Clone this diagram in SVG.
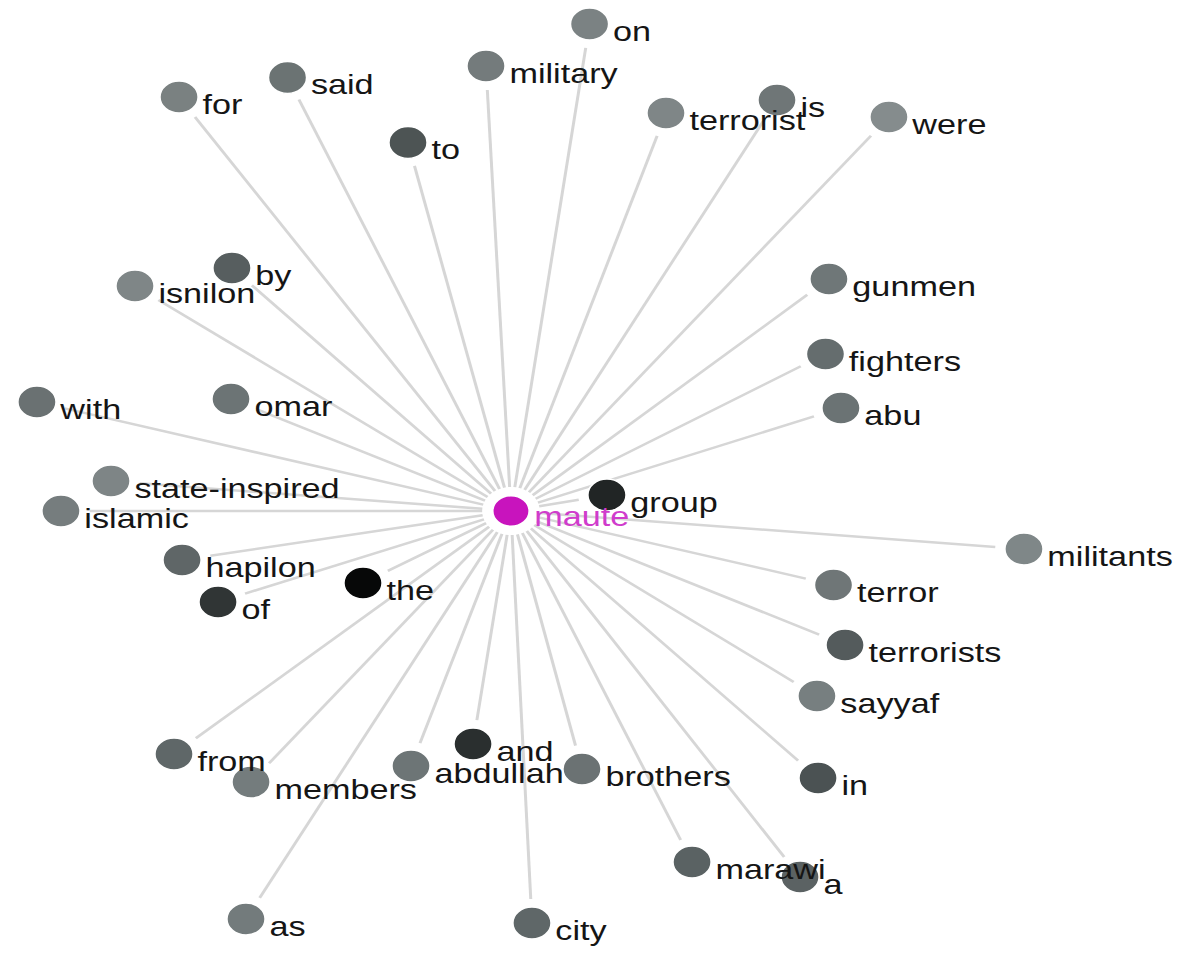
<svg xmlns="http://www.w3.org/2000/svg" width="1191" height="959" viewBox="0 0 1191 959">
<style>
.e{stroke:#d6d6d6;stroke-width:2.5;fill:none}
.n{stroke:#ffffff;stroke-width:1.5}
.t{font-family:"Liberation Sans",Arial,sans-serif;font-size:28.5px;fill:#151515;transform:translate(0px,2px)}
.m{fill:#d03ccc}
</style>
<rect width="1191" height="959" fill="#ffffff"/>
<g transform="scale(1.2,1)">
<g id="edges">
<line class="e" x1="429.0" y1="487.2" x2="488.1" y2="47.8"/>
<line class="e" x1="424.7" y1="487.0" x2="406.1" y2="90.0"/>
<line class="e" x1="412.5" y1="491.0" x2="162.5" y2="117.0"/>
<line class="e" x1="416.3" y1="489.0" x2="249.1" y2="99.6"/>
<line class="e" x1="420.4" y1="487.6" x2="345.4" y2="165.9"/>
<line class="e" x1="433.2" y1="488.2" x2="547.6" y2="135.8"/>
<line class="e" x1="437.2" y1="489.9" x2="636.1" y2="121.1"/>
<line class="e" x1="440.8" y1="492.3" x2="725.8" y2="135.7"/>
<line class="e" x1="409.2" y1="493.7" x2="209.9" y2="285.3"/>
<line class="e" x1="406.3" y1="497.0" x2="132.0" y2="300.0"/>
<line class="e" x1="443.9" y1="495.2" x2="672.7" y2="294.8"/>
<line class="e" x1="446.4" y1="498.7" x2="667.3" y2="366.3"/>
<line class="e" x1="448.3" y1="502.6" x2="678.3" y2="416.4"/>
<line class="e" x1="402.7" y1="504.6" x2="53.9" y2="408.4"/>
<line class="e" x1="404.2" y1="500.6" x2="214.1" y2="409.4"/>
<line class="e" x1="401.9" y1="508.8" x2="116.4" y2="483.2"/>
<line class="e" x1="401.8" y1="511" x2="74.8" y2="511"/>
<line class="e" x1="402.2" y1="515.2" x2="175.3" y2="555.8"/>
<line class="e" x1="403.3" y1="519.4" x2="204.2" y2="593.6"/>
<line class="e" x1="405.1" y1="523.1" x2="323.2" y2="570.9"/>
<line class="e" x1="449.3" y1="506.3" x2="482.3" y2="499.7"/>
<line class="e" x1="449.7" y1="513.1" x2="829.4" y2="546.9"/>
<line class="e" x1="448.9" y1="517.4" x2="671.5" y2="578.6"/>
<line class="e" x1="447.4" y1="521.4" x2="682.6" y2="634.6"/>
<line class="e" x1="445.2" y1="525.1" x2="661.4" y2="681.9"/>
<line class="e" x1="442.4" y1="528.3" x2="665.1" y2="760.7"/>
<line class="e" x1="435.3" y1="533.0" x2="567.2" y2="840.0"/>
<line class="e" x1="439.0" y1="531.0" x2="653.5" y2="857.0"/>
<line class="e" x1="407.6" y1="526.7" x2="163.2" y2="738.3"/>
<line class="e" x1="410.8" y1="529.7" x2="224.2" y2="763.3"/>
<line class="e" x1="418.3" y1="533.8" x2="350.0" y2="743.2"/>
<line class="e" x1="422.6" y1="534.8" x2="397.4" y2="720.2"/>
<line class="e" x1="431.2" y1="534.4" x2="479.6" y2="745.6"/>
<line class="e" x1="414.4" y1="532.1" x2="216.4" y2="897.9"/>
<line class="e" x1="426.8" y1="535.0" x2="442.3" y2="899.0"/>
</g>
<g id="node-by"><circle class="n" cx="193.3" cy="268" r="16" fill="#575e5f"/><text class="t" x="212.8" y="283">by</text></g>
<g id="node-is"><circle class="n" cx="647.5" cy="100" r="16" fill="#6f7677"/><text class="t" x="667" y="115">is</text></g>
<g id="node-a"><circle class="n" cx="666.7" cy="877" r="16" fill="#5b6263"/><text class="t" x="686.2" y="892">a</text></g>
<g id="node-members"><circle class="n" cx="209.2" cy="782" r="16" fill="#747c7d"/><text class="t" x="228.7" y="797">members</text></g>
<g id="node-brothers"><circle class="n" cx="485" cy="769" r="16" fill="#6b7273"/><text class="t" x="504.5" y="784">brothers</text></g>
<g id="node-on"><circle class="n" cx="491.3" cy="24" r="16" fill="#7b8283"/><text class="t" x="510.8" y="39">on</text></g>
<g id="node-military"><circle class="n" cx="405" cy="66" r="16" fill="#747b7c"/><text class="t" x="424.5" y="81">military</text></g>
<g id="node-for"><circle class="n" cx="149.2" cy="97" r="16" fill="#7a8181"/><text class="t" x="168.7" y="112">for</text></g>
<g id="node-said"><circle class="n" cx="239.6" cy="77.5" r="16" fill="#6b7373"/><text class="t" x="259.1" y="92.5">said</text></g>
<g id="node-to"><circle class="n" cx="340" cy="142.5" r="16" fill="#4d5454"/><text class="t" x="359.5" y="157.5">to</text></g>
<g id="node-terrorist"><circle class="n" cx="555" cy="113" r="16" fill="#7f8687"/><text class="t" x="574.5" y="128">terrorist</text></g>
<g id="node-were"><circle class="n" cx="740.8" cy="117" r="16" fill="#858c8d"/><text class="t" x="760.3" y="132">were</text></g>
<g id="node-isnilon"><circle class="n" cx="112.5" cy="286" r="16" fill="#7f8687"/><text class="t" x="132" y="301">isnilon</text></g>
<g id="node-gunmen"><circle class="n" cx="690.8" cy="279" r="16" fill="#6f7778"/><text class="t" x="710.3" y="294">gunmen</text></g>
<g id="node-fighters"><circle class="n" cx="687.9" cy="354" r="16" fill="#656d6e"/><text class="t" x="707.4" y="369">fighters</text></g>
<g id="node-abu"><circle class="n" cx="700.8" cy="408" r="16" fill="#6b7374"/><text class="t" x="720.3" y="423">abu</text></g>
<g id="node-with"><circle class="n" cx="30.8" cy="402" r="16" fill="#6a7172"/><text class="t" x="50.3" y="417">with</text></g>
<g id="node-omar"><circle class="n" cx="192.5" cy="399" r="16" fill="#6c7475"/><text class="t" x="212" y="414">omar</text></g>
<g id="node-state-inspired"><circle class="n" cx="92.5" cy="481" r="16" fill="#7e8586"/><text class="t" x="112" y="496">state-inspired</text></g>
<g id="node-islamic"><circle class="n" cx="50.8" cy="511" r="16" fill="#767d7e"/><text class="t" x="70.3" y="526">islamic</text></g>
<g id="node-hapilon"><circle class="n" cx="151.7" cy="560" r="16" fill="#5f6667"/><text class="t" x="171.2" y="575">hapilon</text></g>
<g id="node-of"><circle class="n" cx="181.7" cy="602" r="16" fill="#303535"/><text class="t" x="201.2" y="617">of</text></g>
<g id="node-the"><circle class="n" cx="302.5" cy="583" r="16" fill="#070808"/><text class="t" x="322" y="598">the</text></g>
<g id="node-group"><circle class="n" cx="505.8" cy="495" r="16" fill="#212525"/><text class="t" x="525.3" y="510">group</text></g>
<g id="node-militants"><circle class="n" cx="853.3" cy="549" r="16" fill="#7f8788"/><text class="t" x="872.8" y="564">militants</text></g>
<g id="node-terror"><circle class="n" cx="694.6" cy="585" r="16" fill="#6f7677"/><text class="t" x="714.1" y="600">terror</text></g>
<g id="node-terrorists"><circle class="n" cx="704.2" cy="645" r="16" fill="#545b5c"/><text class="t" x="723.7" y="660">terrorists</text></g>
<g id="node-sayyaf"><circle class="n" cx="680.8" cy="696" r="16" fill="#777f80"/><text class="t" x="700.3" y="711">sayyaf</text></g>
<g id="node-in"><circle class="n" cx="681.7" cy="778" r="16" fill="#4b5253"/><text class="t" x="701.2" y="793">in</text></g>
<g id="node-marawi"><circle class="n" cx="576.7" cy="862" r="16" fill="#5a6263"/><text class="t" x="596.2" y="877">marawi</text></g>
<g id="node-from"><circle class="n" cx="145" cy="754" r="16" fill="#5f6768"/><text class="t" x="164.5" y="769">from</text></g>
<g id="node-abdullah"><circle class="n" cx="342.5" cy="766" r="16" fill="#6d7576"/><text class="t" x="362" y="781">abdullah</text></g>
<g id="node-and"><circle class="n" cx="394.2" cy="744" r="16" fill="#2a2f2f"/><text class="t" x="413.7" y="759">and</text></g>
<g id="node-as"><circle class="n" cx="205" cy="919" r="16" fill="#737b7c"/><text class="t" x="224.5" y="934">as</text></g>
<g id="node-city"><circle class="n" cx="443.3" cy="923" r="16" fill="#5f6768"/><text class="t" x="462.8" y="938">city</text></g>
<g id="node-maute"><circle cx="425.8" cy="511" r="16" fill="#c814bd" stroke="#ffffff" stroke-width="3"/><text class="t m" x="445.3" y="524">maute</text></g>
</g>
</svg>
